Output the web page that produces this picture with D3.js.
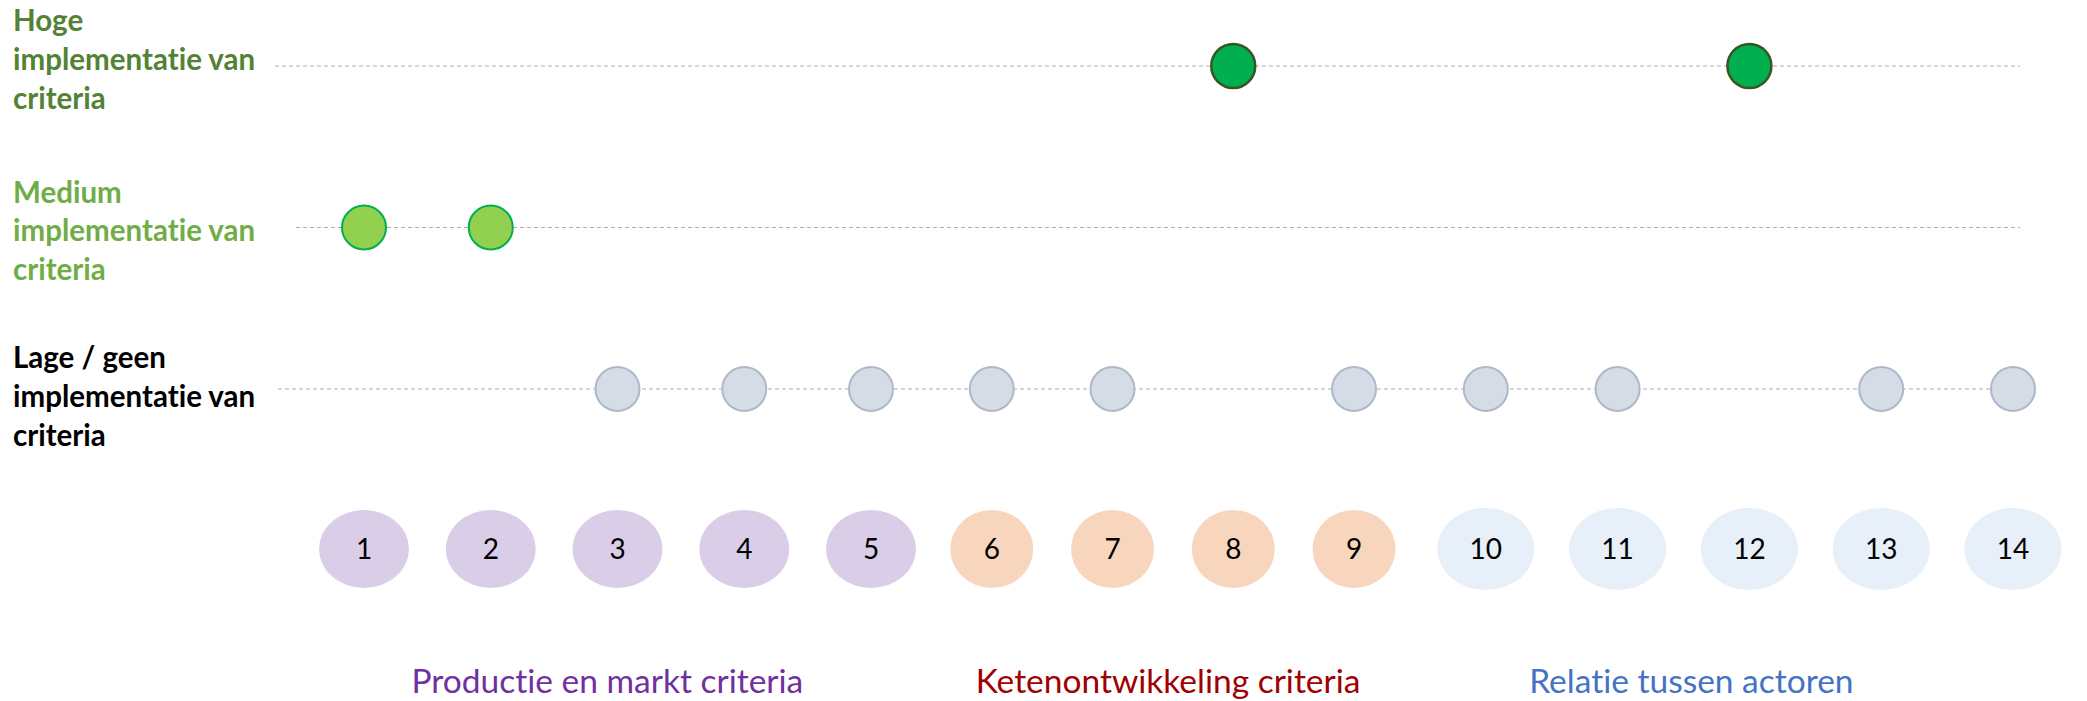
<!DOCTYPE html>
<html>
<head>
<meta charset="utf-8">
<script src="https://cdn.jsdelivr.net/npm/d3@7"></script>
<style>
  body { margin: 0; background: #fff; }
  svg { display: block; font-family: Lato, "Open Sans", sans-serif; font-variant-ligatures: none; }
  .lvl { font-weight: bold; font-size: 29.5px; }
  .num { font-size: 28px; fill: #000; }
  .grp { font-size: 33.5px; }
</style>
</head>
<body>
<svg class="chart" width="2087" height="701"></svg>
<script>
// criteria numbers and which group each one belongs to
let criteria = [1,2,3,4,5,6,7,8,9,10,11,12,13,14]
let criteriaGroup = [0,0,0,0,0, 1,1,1,1, 2,2,2,2,2]
let groups = ['Productie en markt criteria', 'Ketenontwikkeling criteria', 'Relatie tussen actoren']

// implementation levels (top to bottom) and their labels
let levels = ['Hoge', 'Medium', 'Lage']
let levelLabels = [
  ['Hoge', 'implementatie van', 'criteria'],
  ['Medium', 'implementatie van', 'criteria'],
  ['Lage / geen', 'implementatie van', 'criteria'],
]

// level reached per criterion
let scores = ['Medium','Medium','Lage','Lage','Lage','Lage','Lage','Hoge','Lage','Lage','Lage','Hoge','Lage','Lage']

const groupFill = ['#dacde7', '#f8d6bd', '#e7eff8']
const groupText = ['#7030a0', '#a00000', '#4472c4']
const groupRx = [45, 41.5, 48.5]
const groupRy = [39, 39, 41]
const groupAnchor = [2.92, 7.46, 11.56]   // label centre, in criterion units

const levelColor = { Hoge: '#548235', Medium: '#70ad47', Lage: '#000000' }
const dotFill = { Hoge: '#00b050', Medium: '#92d050', Lage: '#d6dce5' }
const dotStroke = { Hoge: '#375623', Medium: '#00b050', Lage: '#adb9ca' }
const lineStart = { Hoge: 275, Medium: 296, Lage: 278 }
const labelTop = { Hoge: -35, Medium: -25, Lage: -21 }

const svg = d3.select('svg.chart')

// each group is spaced a little differently, so the scale is piecewise
const x = d3.scaleLinear()
  .domain([1, 5, 9, 14])
  .range([364, 871, 1354, 2013])

const y = d3.scalePoint()
  .domain(levels)
  .range([66, 389])

// dashed guide lines
svg.selectAll('line.guide')
  .data(levels)
  .enter()
  .append('line')
  .attr('class', 'guide')
  .attr('x1', d => lineStart[d])
  .attr('x2', 2020)
  .attr('y1', d => y(d))
  .attr('y2', d => y(d))
  .attr('stroke', '#adadad')
  .attr('stroke-width', 1.2)
  .attr('stroke-dasharray', '4,3')

// level labels on the left
const lvlText = svg.selectAll('text.lvl')
  .data(levels)
  .enter()
  .append('text')
  .attr('class', 'lvl')
  .attr('fill', d => levelColor[d])

lvlText.selectAll('tspan')
  .data((d, i) => levelLabels[i].map(t => ({ t, lvl: d })))
  .enter()
  .append('tspan')
  .attr('x', 13)
  .attr('y', (d, j) => y(d.lvl) + labelTop[d.lvl] + j * 38.8)
  .text(d => d.t)

// dots
svg.selectAll('circle.dot')
  .data(scores.map((s, i) => ({ c: criteria[i], s })).filter(d => d.s))
  .enter()
  .append('circle')
  .attr('class', 'dot')
  .attr('cx', d => x(d.c))
  .attr('cy', d => y(d.s))
  .attr('r', 22)
  .attr('fill', d => dotFill[d.s])
  .attr('stroke', d => dotStroke[d.s])
  .attr('stroke-width', d => d.s === 'Hoge' ? 2.5 : 2)

// criterion ellipses
const crit = svg.selectAll('g.crit')
  .data(criteria)
  .enter()
  .append('g')
  .attr('class', 'crit')
  .attr('transform', d => `translate(${x(d)},549)`)

crit.append('ellipse')
  .attr('rx', (d, i) => groupRx[criteriaGroup[i]])
  .attr('ry', (d, i) => groupRy[criteriaGroup[i]])
  .attr('fill', (d, i) => groupFill[criteriaGroup[i]])

crit.append('text')
  .attr('class', 'num')
  .attr('text-anchor', 'middle')
  .attr('dy', '0.36em')
  .text(d => d)

// group names
svg.selectAll('text.grp')
  .data(groups)
  .enter()
  .append('text')
  .attr('class', 'grp')
  .attr('x', (d, i) => x(groupAnchor[i]))
  .attr('y', 693)
  .attr('text-anchor', 'middle')
  .attr('fill', (d, i) => groupText[i])
  .text(d => d)
</script>
</body>
</html>
